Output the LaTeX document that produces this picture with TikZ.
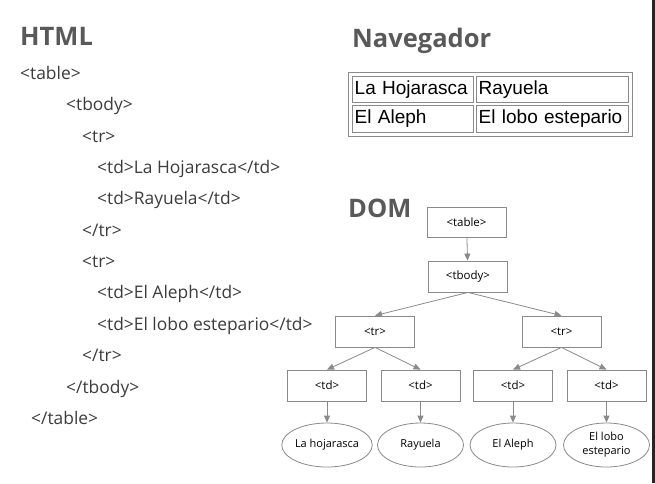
\documentclass[tikz,border=0pt]{standalone}
\usepackage{fontspec}
\setmainfont{Open Sans}
\newfontfamily\arialfont{Liberation Sans}
\usetikzlibrary{shapes.geometric,arrows.meta}
\definecolor{titlegray}{HTML}{595959}
\definecolor{codegray}{HTML}{3C3C3C}
\definecolor{linegray}{HTML}{8A8A8A}
\tikzset{
  title/.style={anchor=base west, inner sep=0, text=titlegray,
    font=\fontsize{25.5}{30}\selectfont\bfseries},
  code/.style={anchor=base west, inner sep=0, text=codegray,
    font=\fontsize{17.4}{20}\selectfont},
  cell/.style={draw=linegray, anchor=north west, inner xsep=2.5pt, inner ysep=0pt,
    align=left, font=\arialfont\fontsize{19}{22}\selectfont},
  tag/.style={draw=linegray, line width=0.8pt, minimum width=79pt, minimum height=31pt,
    inner sep=0, font=\fontsize{11.5}{13}\selectfont},
  leaf/.style={ellipse, draw=linegray, line width=0.8pt, minimum width=86pt,
    minimum height=44pt, inner sep=0, align=center, font=\fontsize{11}{14}\selectfont},
  edge/.style={draw=linegray, line width=0.8pt, -{Triangle[length=7pt,width=6pt]}}
}
\begin{document}
\begin{tikzpicture}[x=1pt,y=-1pt]
    \useasboundingbox (0,0) rectangle (655,483);
    \fill[black!85] (652,0) rectangle (655,483);

    % HTML
    \node [title] (html) at (20,45) {HTML};
    \node [code] (l1) at (20,79) {<table>};
    \node [code] (l2) at (66,110) {<tbody>};
    \node [code] (l3) at (82,142) {<tr>};
    \node [code] (l4) at (97,173) {<td>La Hojarasca</td>};
    \node [code] (l5) at (97,204) {<td>Rayuela</td>};
    \node [code] (l6) at (82,236) {</tr>};
    \node [code] (l7) at (82,267) {<tr>};
    \node [code] (l8) at (97,298) {<td>El Aleph</td>};
    \node [code] (l9) at (97,330) {<td>El lobo estepario</td>};
    \node [code] (l10) at (82,361) {</tr>};
    \node [code] (l11) at (66,393) {</tbody>};
    \node [code] (l12) at (31,424) {</table>};

    % Navegador
    \node [title] (nav) at (352,47) {Navegador};
    \draw [linegray, line width=1pt] (348,72) rectangle (632,136);
    \node [cell, minimum width=121pt, minimum height=26pt, text width=116pt] (c11) at (352,76) {La Hojarasca};
    \node [cell, minimum width=152pt, minimum height=26pt, text width=147pt] (c12) at (476,76) {Rayuela};
    \node [cell, minimum width=121pt, minimum height=27pt, text width=116pt] (c21) at (352,105) {El Aleph};
    \node [cell, minimum width=152pt, minimum height=27pt, text width=147pt] (c22) at (476,105) {El lobo estepario};

    % DOM
    \node [title] (dom) at (348,217) {DOM};
    \node [tag, minimum height=30pt] (t) at (466.5,222) {<table>};
    \node [tag] (b) at (468,276.5) {<tbody>};
    \node [tag] (r1) at (375,331.5) {<tr>};
    \node [tag] (r2) at (561.5,331.5) {<tr>};
    \node [tag] (d1) at (327,385.5) {<td>};
    \node [tag] (d2) at (420.5,385.5) {<td>};
    \node [tag] (d3) at (513,385.5) {<td>};
    \node [tag] (d4) at (606.5,385.5) {<td>};
    \node [leaf] (e1) at (327,445) {La hojarasca};
    \node [leaf] (e2) at (420.5,445) {Rayuela};
    \node [leaf] (e3) at (513,445) {El Aleph};
    \node [leaf] (e4) at (606.5,445) {El lobo\\estepario};
    % edges
    \draw [edge] (t) to (b);
    \draw [edge] (b.south) to (r1.north);
    \draw [edge] (b.south) to (r2.north);
    \draw [edge] (r1.south) to (d1.north);
    \draw [edge] (r1.south) to (d2.north);
    \draw [edge] (r2.south) to (d3.north);
    \draw [edge] (r2.south) to (d4.north);
    \draw [edge] (d1) to (e1);
    \draw [edge] (d2) to (e2);
    \draw [edge] (d3) to (e3);
    \draw [edge] (d4) to (e4);
\end{tikzpicture}
\end{document}
